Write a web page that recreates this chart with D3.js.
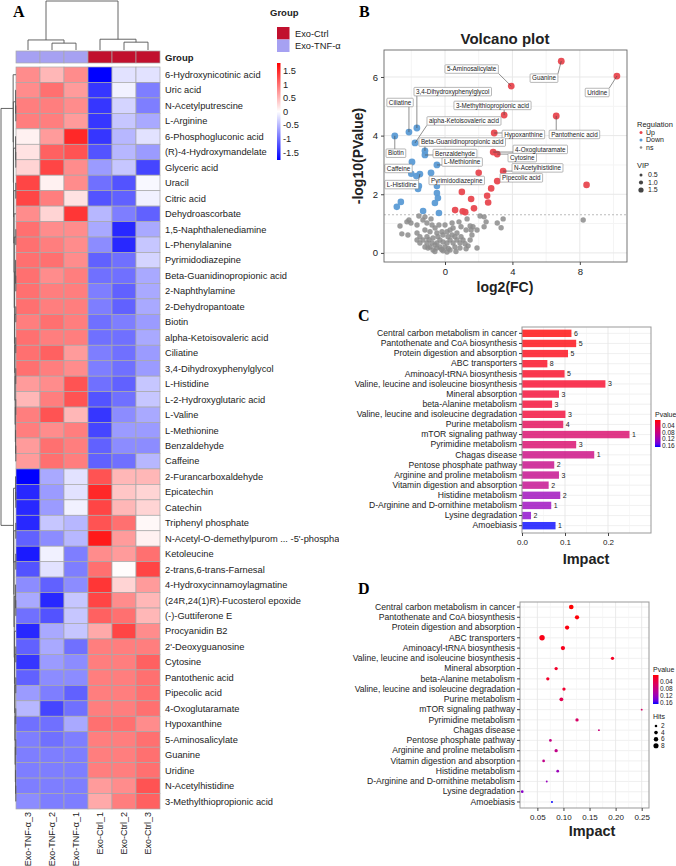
<!DOCTYPE html>
<html>
<head>
<meta charset="utf-8">
<script src="https://cdn.jsdelivr.net/npm/d3@7"></script>
<style>
  body { margin: 0; background: #fff; }
  text { font-family: "Liberation Sans", Arial, sans-serif; fill: #222; }
  .panel { font-family: "Liberation Serif", serif; font-weight: bold; font-size: 16px; fill: #000; }
</style>
</head>
<body>
<svg id="fig" width="676" height="866"></svg>
<script>
// ---------- data : heatmap ----------
const colNames = ["Exo-TNF-α_3", "Exo-TNF-α_2", "Exo-TNF-α_1", "Exo-Ctrl_1", "Exo-Ctrl_2", "Exo-Ctrl_3"];
const colGroup = ["Exo-TNF-α", "Exo-TNF-α", "Exo-TNF-α", "Exo-Ctrl", "Exo-Ctrl", "Exo-Ctrl"];
const groupNames = ["Exo-Ctrl", "Exo-TNF-α"];
const rowNames = [
  "6-Hydroxynicotinic acid", "Uric acid", "N-Acetylputrescine", "L-Arginine", "6-Phosphogluconic acid",
  "(R)-4-Hydroxymandelate", "Glyceric acid", "Uracil", "Citric acid", "Dehydroascorbate",
  "1,5-Naphthalenediamine", "L-Phenylalanine", "Pyrimidodiazepine", "Beta-Guanidinopropionic acid",
  "2-Naphthylamine", "2-Dehydropantoate", "Biotin", "alpha-Ketoisovaleric acid", "Ciliatine",
  "3,4-Dihydroxyphenylglycol", "L-Histidine", "L-2-Hydroxyglutaric acid", "L-Valine", "L-Methionine",
  "Benzaldehyde", "Caffeine", "2-Furancarboxaldehyde", "Epicatechin", "Catechin", "Triphenyl phosphate",
  "N-Acetyl-O-demethylpurom ... -5'-phosphate", "Ketoleucine", "2-trans,6-trans-Farnesal",
  "4-Hydroxycinnamoylagmatine", "(24R,24(1)R)-Fucosterol epoxide", "(-)-Guttiferone E", "Procyanidin B2",
  "2'-Deoxyguanosine", "Cytosine", "Pantothenic acid", "Pipecolic acid", "4-Oxoglutaramate",
  "Hypoxanthine", "5-Aminosalicylate", "Guanine", "Uridine", "N-Acetylhistidine", "3-Methylthiopropionic acid"
];
const heatValues = [
  [0.8, 0.5, 0.8, -1.8, -0.2, -0.2],
  [0.8, 1.0, 0.7, -1.4, -0.1, -0.9],
  [0.9, 0.9, 0.8, -1.4, -0.3, -0.9],
  [0.9, 0.9, 0.7, -1.4, -0.4, -0.6],
  [0.1, 0.7, 1.5, -1.4, -0.5, -0.2],
  [0.2, 1.1, 1.2, -1.2, -0.5, -0.7],
  [0.3, 1.3, 0.8, -0.7, -0.4, -1.3],
  [1.3, 0.1, 0.8, -1.0, -1.2, -0.05],
  [1.3, 0.9, 0.2, -1.2, -1.1, -0.1],
  [0.8, 0.3, 1.4, -0.5, -0.9, -1.1],
  [1.0, 0.8, 0.8, -0.6, -1.5, -0.6],
  [1.0, 0.9, 0.8, -0.8, -1.5, -0.4],
  [1.0, 1.0, 0.8, -1.1, -1.0, -0.3],
  [1.0, 0.8, 0.9, -1.0, -1.0, -0.6],
  [1.0, 0.9, 0.9, -0.9, -1.1, -0.6],
  [1.0, 0.9, 0.9, -0.9, -1.1, -0.6],
  [0.9, 1.0, 0.9, -1.0, -0.9, -0.7],
  [1.0, 0.9, 0.9, -1.0, -1.0, -0.6],
  [1.0, 1.1, 0.7, -0.9, -1.0, -0.7],
  [1.0, 0.9, 0.8, -0.9, -1.0, -0.7],
  [0.7, 0.8, 1.2, -1.0, -1.1, -0.4],
  [0.5, 0.9, 1.2, -1.2, -1.0, -0.4],
  [0.9, 1.2, 0.5, -1.4, -0.8, -0.6],
  [0.9, 0.8, 0.9, -1.3, -0.7, -0.7],
  [0.7, 1.0, 0.9, -1.1, -0.8, -0.8],
  [0.7, 1.0, 0.9, -1.1, -1.0, -0.5],
  [-1.8, -0.6, -0.2, 1.2, 0.5, 0.5],
  [-1.5, -0.7, -0.2, 1.5, 0.4, 0.3],
  [-1.5, -0.7, -0.1, 1.3, 0.5, 0.3],
  [-1.5, -0.4, -0.5, 1.2, 1.0, 0.05],
  [-1.1, -0.8, -0.5, 1.6, 0.7, 0.1],
  [-1.6, -0.1, -0.9, 0.8, 0.7, 1.0],
  [-1.2, -0.2, -0.9, 1.0, 0.02, 1.3],
  [-0.8, -1.1, -0.8, 1.4, 0.3, 0.7],
  [-0.6, -1.5, -0.4, 1.3, 0.8, 0.5],
  [-1.0, -1.2, -0.4, 1.1, 1.0, 0.5],
  [-1.5, -0.6, -0.4, 0.6, 1.3, 0.8],
  [-1.1, -0.6, -1.0, 0.9, 0.9, 0.9],
  [-1.4, -0.7, -0.8, 0.9, 0.9, 1.1],
  [-1.1, -0.8, -0.8, 0.9, 0.9, 1.0],
  [-0.7, -0.9, -1.1, 0.9, 0.9, 1.0],
  [-0.5, -1.3, -1.0, 0.9, 0.9, 1.0],
  [-1.0, -1.0, -0.6, 1.0, 1.0, 0.8],
  [-0.9, -1.0, -0.9, 0.9, 0.9, 1.0],
  [-0.9, -0.9, -0.9, 0.9, 0.9, 1.0],
  [-0.9, -0.9, -0.9, 0.9, 0.9, 1.0],
  [-0.9, -0.9, -0.9, 0.7, 0.8, 1.2],
  [-0.8, -0.9, -0.9, 0.6, 0.9, 1.1]
];
const heatTicks = [1.5, 1, 0.5, 0, -0.5, -1, -1.5];
// column tree: [height, left, right]
const colTree = [10, [2.05, 0, [1.4, 1, 2]], [2.2, 3, [1.6, 4, 5]]];
// row tree: nested pairs of row indices
const rowTree = [
  [0, [[1, [2, 3]], [[4, [5, 6]], [[7, 8], [9, [[10, 11], [[12, [13, 14]], [[15, 16], [[17, 18], [[19, 20], [[21, 22], [23, [24, 25]]]]]]]]]]]]],
  [[26, [27, 28]], [[29, 30], [[31, 32], [[33, [34, 35]], [36, [[37, 38], [[39, 40], [[41, 42], [[43, 44], [45, [46, 47]]]]]]]]]]]
];

// ---------- data : volcano ----------
// [name, log2FC, -log10P, label x, label y, regulation]
const volcanoLabels = [
  ["5-Aminosalicylate", 3.93, 5.69, 0.0, 6.27, "Up"],
  ["Guanine", 6.9, 6.54, 5.05, 5.96, "Up"],
  ["Uridine", 10.2, 6.03, 8.32, 5.47, "Up"],
  ["3-Methylthiopropionic acid", 3.51, 4.7, 0.53, 5.03, "Up"],
  ["Pantothenic acid", 6.6, 4.67, 6.18, 4.04, "Up"],
  ["Hypoxanthine", 2.92, 4.09, 3.39, 4.04, "Up"],
  ["4-Oxoglutaramate", 2.86, 3.44, 4.04, 3.53, "Up"],
  ["Cytosine", 3.1, 3.37, 3.74, 3.25, "Up"],
  ["N-Acetylhistidine", 3.45, 2.79, 3.98, 2.9, "Up"],
  ["Pipecolic acid", 3.1, 2.45, 3.27, 2.56, "Up"],
  ["3,4-Dihydroxyphenylglycol", -1.67, 4.26, -1.84, 5.5, "Down"],
  ["Ciliatine", -2.14, 4.12, -3.45, 5.13, "Down"],
  ["alpha-Ketoisovaleric acid", -1.78, 3.75, -1.07, 4.5, "Down"],
  ["Beta-Guanidinopropionic acid", -1.19, 3.48, -1.55, 3.78, "Down"],
  ["Benzaldehyde", -1.19, 3.34, -0.71, 3.39, "Down"],
  ["Biotin", -2.98, 3.99, -3.5, 3.4, "Down"],
  ["Caffeine", -1.96, 3.1, -3.57, 2.88, "Down"],
  ["L-Methionine", -0.48, 3.0, -0.18, 3.1, "Down"],
  ["L-Histidine", -1.49, 2.69, -3.57, 2.33, "Down"],
  ["Pyrimidodiazepine", -0.83, 2.73, -0.95, 2.47, "Down"]
];
const upPoints = [
  [2.0, 2.73], [2.74, 2.2], [1.0, 2.08], [2.5, 1.95], [1.55, 1.84], [2.56, 1.72],
  [1.72, 1.52], [0.6, 1.46], [1.05, 1.42], [1.2, 1.39], [8.4, 2.32]
];
const downPoints = [
  [-2.86, 1.57], [-2.62, 1.74], [-2.0, 2.7], [-1.55, 2.28], [-1.6, 2.18], [-0.48, 2.28],
  [-0.48, 2.04], [-0.42, 1.87], [-0.6, 1.7], [-1.3, 1.43], [-0.36, 1.36], [-1.7, 2.62]
];
const nsPoints = [
  [8.2, 1.12], [3.45, 1.16], [3.1, 1.02], [3.33, 0.86], [2.44, 1.06], [2.32, 1.23], [2.08, 1.26],
  [1.66, 0.89], [1.49, 0.92], [1.31, 1.16], [0.95, 0.89], [1.25, 0.78], [0.48, 0.85], [0.3, 0.78],
  [1.9, 0.17], [1.37, 0.24], [1.25, 0.14], [0.71, 0.44], [0.95, 0.55], [1.07, 0.44], [0.59, 0.2],
  [0.89, 0.17], [0.3, 0.1], [0.12, 0.03], [-0.12, 0.07], [-0.3, 0.2], [-0.48, 0.17], [-0.71, 0.1],
  [-0.89, 0.2], [-1.07, 0.34], [-1.31, 0.44], [-1.49, 0.55], [-1.07, 0.55], [-1.66, 0.68],
  [-1.19, 0.78], [-0.89, 0.72], [-0.71, 0.51], [-0.42, 0.55], [-0.3, 0.44], [-0.12, 0.37],
  [0.12, 0.34], [0.3, 0.44], [0.48, 0.34], [0.59, 0.55], [0.18, 0.55], [-0.12, 0.61], [-0.48, 0.68],
  [-0.18, 0.72], [-0.59, 0.85], [-0.36, 0.95], [-0.77, 0.95], [-1.07, 1.02], [-1.31, 1.12],
  [-1.55, 1.26], [-1.19, 1.23], [-0.83, 1.16], [-1.66, 0.95], [-2.02, 1.02], [-2.14, 1.12],
  [-2.26, 1.06], [-2.67, 0.92], [-2.56, 0.65], [-2.2, 0.61], [-1.66, 0.44], [-1.49, 0.34],
  [-1.19, 0.2], [-1.01, 0.17], [-0.77, 0.34], [-0.48, 0.34], [0.0, 0.2], [-0.59, 0.27],
  [0.71, 0.68], [0.42, 1.02], [0.83, 1.06], [0.0, 0.95], [0.12, 0.72], [0.42, 0.61], [0.89, 0.34],
  [1.19, 0.31], [1.49, 0.44], [1.6, 0.61], [1.55, 0.78], [1.9, 0.78], [2.32, 0.89], [-0.2, 0.12],
  [0.2, 0.15], [-0.95, 0.45], [0.65, 0.05], [-0.6, 0.05]
];
const volcanoXTicks = [0, 4, 8];
const volcanoYTicks = [0, 2, 4, 6];
const vipLevels = [0.5, 1.0, 1.5];

// ---------- data : pathway enrichment ----------
const pathways = [
  "Central carbon metabolism in cancer", "Pantothenate and CoA biosynthesis", "Protein digestion and absorption",
  "ABC transporters", "Aminoacyl-tRNA biosynthesis", "Valine, leucine and isoleucine biosynthesis",
  "Mineral absorption", "beta-Alanine metabolism", "Valine, leucine and isoleucine degradation",
  "Purine metabolism", "mTOR signaling pathway", "Pyrimidine metabolism", "Chagas disease",
  "Pentose phosphate pathway", "Arginine and proline metabolism", "Vitamin digestion and absorption",
  "Histidine metabolism", "D-Arginine and D-ornithine metabolism", "Lysine degradation", "Amoebiasis"
];
const impact = [0.115, 0.126, 0.107, 0.059, 0.099, 0.194, 0.086, 0.07, 0.101, 0.096,
                0.25, 0.126, 0.168, 0.075, 0.086, 0.062, 0.089, 0.068, 0.021, 0.078];
const hits = [6, 5, 5, 8, 5, 3, 3, 3, 3, 4, 1, 3, 1, 2, 3, 2, 2, 1, 2, 1];
const pvalue = [0.003, 0.005, 0.007, 0.01, 0.012, 0.016, 0.02, 0.02, 0.023, 0.045,
                0.06, 0.06, 0.077, 0.082, 0.085, 0.086, 0.12, 0.122, 0.132, 0.168];
const pTicks = [0.04, 0.08, 0.12, 0.16];
const barTicks = [0, 0.1, 0.2];
const dotTicks = [0.05, 0.1, 0.15, 0.2, 0.25];
const hitLevels = [2, 4, 6, 8];

const svg = d3.select("#fig");
svg.append("rect").attr("width", 676).attr("height", 866).attr("fill", "#fff");

// ================= A : heatmap =================
const gA = svg.append("g");
gA.append("defs").append("clipPath").attr("id", "clipA")
  .append("rect").attr("x", 0).attr("y", 0).attr("width", 339).attr("height", 866);
const A = gA.append("g").attr("clip-path", "url(#clipA)");
svg.append("text").attr("class", "panel").attr("x", 13).attr("y", 17).text("A");

const hx = d3.scaleBand().domain(d3.range(colNames.length)).range([16, 160]);
const hy = d3.scaleBand().domain(d3.range(rowNames.length)).range([67, 809]);
const heatColor = d3.scaleLinear().domain([-1.78, 0, 1.78]).range(["#0000ff", "#ffffff", "#ff0000"]).clamp(true);
const groupColor = d3.scaleOrdinal().domain(groupNames).range(["#c1102e", "#a6a1f2"]);

// cells
heatValues.forEach((row, i) => {
  A.selectAll(null).data(row).join("rect")
    .attr("x", (d, j) => hx(j)).attr("y", hy(i))
    .attr("width", hx.bandwidth()).attr("height", hy.bandwidth())
    .attr("fill", d => heatColor(d))
    .attr("stroke", "#a8a8a8").attr("stroke-width", 0.7);
});
// group bar
A.selectAll(".grp").data(colGroup).join("rect")
  .attr("x", (d, j) => hx(j)).attr("y", 51).attr("width", hx.bandwidth()).attr("height", 12)
  .attr("fill", d => groupColor(d)).attr("stroke", "#a8a8a8").attr("stroke-width", 0.7);
A.append("text").attr("x", 165).attr("y", 60.5).attr("font-size", 9.5).attr("font-weight", "bold").text("Group");

// row labels
A.selectAll(".rl").data(rowNames).join("text")
  .attr("x", 165).attr("y", (d, i) => hy(i) + hy.bandwidth() / 2).attr("dy", "0.35em")
  .attr("font-size", 9.3).text(d => d);
// column labels
A.selectAll(".cl").data(colNames).join("text")
  .attr("transform", (d, j) => `translate(${hx(j) + hx.bandwidth() / 2 + 3.3},812) rotate(-90)`)
  .attr("text-anchor", "end").attr("font-size", 9).text(d => d);

// column dendrogram
const colH = d3.scaleLinear().domain([0, 10]).range([50, 1]);
const dendro = A.append("g").attr("fill", "none").attr("stroke", "#555").attr("stroke-width", 0.9);
function drawCol(node) {
  if (typeof node === "number") return { p: hx(node) + hx.bandwidth() / 2, y: colH(0) };
  const a = drawCol(node[1]), b = drawCol(node[2]);
  const y = colH(node[0]);
  dendro.append("path").attr("d", `M${a.p},${a.y}V${y}H${b.p}V${b.y}`);
  return { p: (a.p + b.p) / 2, y: y };
}
drawCol(colTree);

// row dendrogram
function drawRow(node, isRoot) {
  if (typeof node === "number") return { p: hy(node) + hy.bandwidth() / 2, h: 0, x: 16 };
  const a = drawRow(node[0], false), b = drawRow(node[1], false);
  const h = Math.max(a.h, b.h) + 1;
  const x = isRoot ? 1 : 16 - h * 0.22;
  dendro.append("path").attr("d", `M${a.x},${a.p}H${x}V${b.p}H${b.x}`);
  return { p: (a.p + b.p) / 2, h: h, x: x };
}
drawRow(rowTree, true);

// group legend
svg.append("text").attr("x", 270).attr("y", 16).attr("font-size", 9.5).attr("font-weight", "bold").text("Group");
groupNames.forEach((g, i) => {
  svg.append("rect").attr("x", 277).attr("y", 27 + i * 12.5).attr("width", 12.5).attr("height", 12.5)
    .attr("fill", groupColor(g));
  svg.append("text").attr("x", 295).attr("y", 33.5 + i * 12.5).attr("dy", "0.35em").attr("font-size", 9.3).text(g);
});
// heat colour legend
const hl = d3.scaleLinear().domain([1.78, -1.78]).range([63, 160]);
const hGrad = svg.append("defs").append("linearGradient").attr("id", "hgrad")
  .attr("x1", 0).attr("y1", 0).attr("x2", 0).attr("y2", 1);
d3.range(0, 1.0001, 0.1).forEach(t => {
  hGrad.append("stop").attr("offset", t).attr("stop-color", heatColor(hl.invert(63 + t * 97)));
});
svg.append("rect").attr("x", 277).attr("y", 63).attr("width", 3.5).attr("height", 97).attr("fill", "url(#hgrad)");
svg.selectAll(".ht").data(heatTicks).join("text")
  .attr("x", 283).attr("y", d => hl(d)).attr("dy", "0.35em").attr("font-size", 9.3).text(d => d);

// ================= B : volcano =================
svg.append("text").attr("class", "panel").attr("x", 359).attr("y", 17).text("B");
const vx = d3.scaleLinear().domain([-3.62, 10.8]).range([384, 627]);
const vy = d3.scaleLinear().domain([-0.31, 6.92]).range([262, 50]);
const B = svg.append("g");
const regColor = { Up: "#e8474f", Down: "#5b9bd5", ns: "#8c8c8c" };

// grid
B.selectAll(".vgm").data([-2, 2, 6, 10]).join("line")
  .attr("x1", d => vx(d)).attr("x2", d => vx(d)).attr("y1", 50).attr("y2", 262).attr("stroke", "#f4f4f4");
B.selectAll(".hgm").data([1, 3, 5]).join("line")
  .attr("y1", d => vy(d)).attr("y2", d => vy(d)).attr("x1", 384).attr("x2", 627).attr("stroke", "#f4f4f4");
B.selectAll(".vg").data(volcanoXTicks).join("line")
  .attr("x1", d => vx(d)).attr("x2", d => vx(d)).attr("y1", 50).attr("y2", 262).attr("stroke", "#e8e8e8");
B.selectAll(".hg").data(volcanoYTicks).join("line")
  .attr("y1", d => vy(d)).attr("y2", d => vy(d)).attr("x1", 384).attr("x2", 627).attr("stroke", "#e8e8e8");
B.append("line").attr("x1", 384).attr("x2", 627).attr("y1", vy(1.301)).attr("y2", vy(1.301))
  .attr("stroke", "#aaa").attr("stroke-dasharray", "2,2").attr("stroke-width", 0.8);

// points
B.selectAll(".ns").data(nsPoints).join("circle")
  .attr("cx", d => vx(d[0])).attr("cy", d => vy(d[1])).attr("r", 2.7)
  .attr("fill", regColor.ns).attr("opacity", 0.85);
B.selectAll(".dn").data(downPoints).join("circle")
  .attr("cx", d => vx(d[0])).attr("cy", d => vy(d[1])).attr("r", 3.3)
  .attr("fill", regColor.Down).attr("opacity", 0.95);
B.selectAll(".up").data(upPoints).join("circle")
  .attr("cx", d => vx(d[0])).attr("cy", d => vy(d[1])).attr("r", 3.3)
  .attr("fill", regColor.Up).attr("opacity", 0.95);
B.selectAll(".lp").data(volcanoLabels).join("circle")
  .attr("cx", d => vx(d[1])).attr("cy", d => vy(d[2])).attr("r", 3.4)
  .attr("fill", d => regColor[d[5]]).attr("opacity", 0.95);

// labels
volcanoLabels.forEach(d => {
  const bx = vx(d[3]), by = vy(d[4]);
  const t = B.append("text").attr("x", bx + 2).attr("y", by).attr("dy", "0.35em")
    .attr("font-size", 6.3).text(d[0]);
  const w = t.node().getComputedTextLength() + 4, h = 8.5;
  const px = vx(d[1]), py = vy(d[2]);
  const cx = Math.max(bx, Math.min(px, bx + w)), cy = Math.max(by - h / 2, Math.min(py, by + h / 2));
  if (Math.hypot(px - cx, py - cy) > 4) {
    B.insert("line", "text").attr("x1", px).attr("y1", py).attr("x2", cx).attr("y2", cy)
      .attr("stroke", "#444").attr("stroke-width", 0.6);
  }
  B.insert("rect", "text").attr("x", bx).attr("y", by - h / 2).attr("width", w).attr("height", h)
    .attr("fill", "#fff").attr("stroke", "#888").attr("stroke-width", 0.6).attr("rx", 0.8);
  t.raise();
});

B.append("rect").attr("x", 384).attr("y", 50).attr("width", 243).attr("height", 212)
  .attr("fill", "none").attr("stroke", "#666").attr("stroke-width", 0.9);
// axes
B.append("g").attr("transform", "translate(0,262)")
  .call(d3.axisBottom(vx).tickValues(volcanoXTicks).tickSize(3).tickFormat(d3.format("d")))
  .call(g => { g.select(".domain").remove(); g.selectAll("line").attr("stroke", "#444");
               g.selectAll("text").attr("font-size", 9.5).attr("fill", "#333").attr("font-family", null); });
B.append("g").attr("transform", "translate(384,0)")
  .call(d3.axisLeft(vy).tickValues(volcanoYTicks).tickSize(3).tickFormat(d3.format("d")))
  .call(g => { g.select(".domain").remove(); g.selectAll("line").attr("stroke", "#444");
               g.selectAll("text").attr("font-size", 9.5).attr("fill", "#333").attr("font-family", null); });
B.append("text").attr("x", 505).attr("y", 44).attr("text-anchor", "middle")
  .attr("font-size", 15).attr("font-weight", "bold").text("Volcano plot");
B.append("text").attr("x", 505).attr("y", 292).attr("text-anchor", "middle")
  .attr("font-size", 14).attr("font-weight", "bold").text("log2(FC)");
B.append("text").attr("transform", "translate(363,156) rotate(-90)").attr("text-anchor", "middle")
  .attr("font-size", 14).attr("font-weight", "bold").text("-log10(PValue)");

// legend
B.append("text").attr("x", 637).attr("y", 127).attr("font-size", 7.5).text("Regulation");
["Up", "Down", "ns"].forEach((k, i) => {
  B.append("circle").attr("cx", 641).attr("cy", 132.5 + i * 7.5).attr("r", k === "ns" ? 1.3 : 1.5).attr("fill", regColor[k]);
  B.append("text").attr("x", 646).attr("y", 132.5 + i * 7.5).attr("dy", "0.35em").attr("font-size", 7).text(k);
});
const vipR = d3.scaleLinear().domain([0.5, 1.5]).range([1.5, 2.6]);
B.append("text").attr("x", 637).attr("y", 168).attr("font-size", 7.5).text("VIP");
vipLevels.forEach((v, i) => {
  B.append("circle").attr("cx", 641).attr("cy", 175 + i * 7.5).attr("r", vipR(v)).attr("fill", "#444");
  B.append("text").attr("x", 648).attr("y", 175 + i * 7.5).attr("dy", "0.35em").attr("font-size", 7).text(d3.format(".1f")(v));
});

// ================= C : bar chart =================
svg.append("text").attr("class", "panel").attr("x", 358).attr("y", 321).text("C");
const pColor = d3.scaleLinear().domain([0.003, 0.168]).range(["#ff0000", "#0000ff"]).interpolate(d3.interpolateLab);
const C = svg.append("g");
const cx = d3.scaleLinear().domain([0, 0.3]).range([522, 651]);
const cy = d3.scaleBand().domain(pathways).range([326.9, 532.1]).padding(0.27);
C.selectAll(".hg").data(pathways).join("line")
  .attr("x1", 522).attr("x2", 651).attr("y1", d => cy(d) + cy.bandwidth() / 2).attr("y2", d => cy(d) + cy.bandwidth() / 2)
  .attr("stroke", "#ececec").attr("stroke-width", 0.8);
C.selectAll(".vgm").data([0.05, 0.15, 0.25]).join("line")
  .attr("x1", d => cx(d)).attr("x2", d => cx(d)).attr("y1", 327).attr("y2", 533).attr("stroke", "#f3f3f3").attr("stroke-width", 0.6);
C.selectAll(".vg").data(barTicks).join("line")
  .attr("x1", d => cx(d)).attr("x2", d => cx(d)).attr("y1", 327).attr("y2", 533).attr("stroke", "#e6e6e6").attr("stroke-width", 0.9);
C.selectAll(".bar").data(pathways).join("rect")
  .attr("x", cx(0)).attr("y", d => cy(d)).attr("width", (d, i) => cx(impact[i]) - cx(0)).attr("height", cy.bandwidth())
  .attr("fill", (d, i) => pColor(pvalue[i])).attr("fill-opacity", 0.78);
C.selectAll(".cnt").data(pathways).join("text")
  .attr("x", (d, i) => cx(impact[i]) + 2.5).attr("y", d => cy(d) + cy.bandwidth() / 2).attr("dy", "0.35em")
  .attr("font-size", 7).attr("fill", "#333").text((d, i) => hits[i]);
C.append("rect").attr("x", 522).attr("y", 327).attr("width", 129).attr("height", 206)
  .attr("fill", "none").attr("stroke", "#999").attr("stroke-width", 1);
C.append("g").attr("transform", "translate(522,0)")
  .call(d3.axisLeft(cy).tickSize(3).tickPadding(2))
  .call(g => { g.select(".domain").remove(); g.selectAll("line").attr("stroke", "#444");
               g.selectAll("text").attr("font-size", 8.6).attr("fill", "#222").attr("font-family", null); });
C.append("g").attr("transform", "translate(0,533)")
  .call(d3.axisBottom(cx).tickValues(barTicks).tickSize(3).tickFormat(d3.format(".1f")))
  .call(g => { g.select(".domain").remove(); g.selectAll("line").attr("stroke", "#444");
               g.selectAll("text").attr("font-size", 8).attr("fill", "#333").attr("font-family", null); });
C.append("text").attr("x", 586).attr("y", 564).attr("text-anchor", "middle")
  .attr("font-size", 14.5).attr("font-weight", "bold").text("Impact");

// p-value legend (shared look)
const pGrad = svg.append("defs").append("linearGradient").attr("id", "pgrad")
  .attr("x1", 0).attr("y1", 0).attr("x2", 0).attr("y2", 1);
d3.range(0, 1.0001, 0.1).forEach(t => {
  pGrad.append("stop").attr("offset", t).attr("stop-color", pColor(0.003 + t * 0.165));
});
function pLegend(x, y0, y1, title) {
  const s = d3.scaleLinear().domain([0.003, 0.168]).range([y0, y1]);
  svg.append("text").attr("x", x).attr("y", y0 - 3.5).attr("font-size", 7).text(title);
  svg.append("rect").attr("x", x).attr("y", y0).attr("width", 5.5).attr("height", y1 - y0).attr("fill", "url(#pgrad)");
  svg.selectAll(null).data(pTicks).join("text")
    .attr("x", x + 7).attr("y", d => s(d)).attr("dy", "0.35em").attr("font-size", 6.5).text(d => d);
}
pLegend(655, 420, 447, "Pvalue");

// ================= D : dot plot =================
svg.append("text").attr("class", "panel").attr("x", 358).attr("y", 594).text("D");
const D = svg.append("g");
const dx = d3.scaleLinear().domain([0.0167, 0.264]).range([520, 649]);
const dy = d3.scaleBand().domain(pathways).range([601.9, 807.1]);
const hitR = d3.scaleSqrt().domain([0, 8]).range([0, 2.7]);
D.selectAll(".hg").data(pathways).join("line")
  .attr("x1", 520).attr("x2", 649).attr("y1", d => dy(d) + dy.bandwidth() / 2).attr("y2", d => dy(d) + dy.bandwidth() / 2)
  .attr("stroke", "#ececec").attr("stroke-width", 0.8);
D.selectAll(".vgm").data([0.025, 0.075, 0.125, 0.175, 0.225]).join("line")
  .attr("x1", d => dx(d)).attr("x2", d => dx(d)).attr("y1", 602).attr("y2", 808).attr("stroke", "#f3f3f3").attr("stroke-width", 0.6);
D.selectAll(".vg").data(dotTicks).join("line")
  .attr("x1", d => dx(d)).attr("x2", d => dx(d)).attr("y1", 602).attr("y2", 808).attr("stroke", "#e6e6e6").attr("stroke-width", 0.9);
D.selectAll(".dot").data(pathways).join("circle")
  .attr("cx", (d, i) => dx(impact[i])).attr("cy", d => dy(d) + dy.bandwidth() / 2)
  .attr("r", (d, i) => hitR(hits[i])).attr("fill", (d, i) => pColor(pvalue[i]));
D.append("rect").attr("x", 520).attr("y", 602).attr("width", 129).attr("height", 206)
  .attr("fill", "none").attr("stroke", "#999").attr("stroke-width", 1);
D.append("g").attr("transform", "translate(520,0)")
  .call(d3.axisLeft(dy).tickSize(3).tickPadding(2))
  .call(g => { g.select(".domain").remove(); g.selectAll("line").attr("stroke", "#444");
               g.selectAll("text").attr("font-size", 8.6).attr("fill", "#222").attr("font-family", null); });
D.append("g").attr("transform", "translate(0,808)")
  .call(d3.axisBottom(dx).tickValues(dotTicks).tickSize(3).tickFormat(d3.format(".2f")))
  .call(g => { g.select(".domain").remove(); g.selectAll("line").attr("stroke", "#444");
               g.selectAll("text").attr("font-size", 8).attr("fill", "#333").attr("font-family", null); });
D.append("text").attr("x", 592).attr("y", 836).attr("text-anchor", "middle")
  .attr("font-size", 14.5).attr("font-weight", "bold").text("Impact");
pLegend(653, 675, 704, "Pvalue");
svg.append("text").attr("x", 653).attr("y", 719).attr("font-size", 7).text("Hits");
hitLevels.forEach((h, i) => {
  svg.append("circle").attr("cx", 656).attr("cy", 726 + i * 6.6).attr("r", hitR(h) * 0.95).attr("fill", "#000");
  svg.append("text").attr("x", 661).attr("y", 726 + i * 6.6).attr("dy", "0.35em").attr("font-size", 6.5).text(h);
});
</script>
</body>
</html>
